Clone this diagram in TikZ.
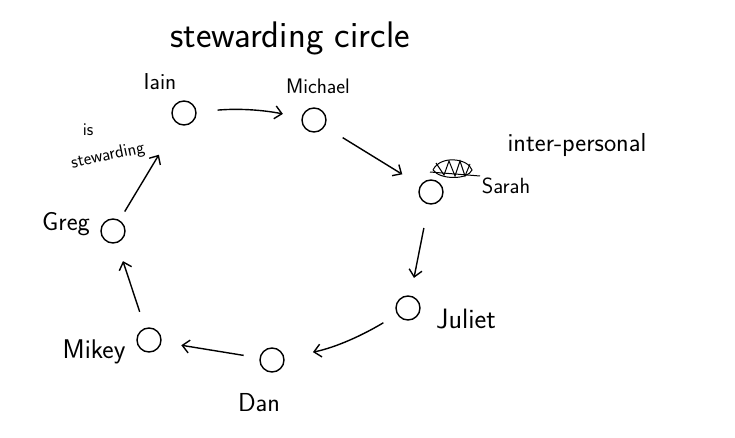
\documentclass[tikz,border=0pt]{standalone}
\usetikzlibrary{arrows.meta}
\begin{document}
\begin{tikzpicture}[x=1pt,y=-1pt,
  person/.style={circle,draw,minimum size=24pt,inner sep=0pt,line width=1.4pt},
  lbl/.style={font=\sffamily\fontsize{21}{23}\selectfont,inner sep=0pt},
  big/.style={font=\sffamily\fontsize{26}{28}\selectfont},
  small/.style={font=\sffamily\fontsize{18}{20}\selectfont},
  conn/.style={-{Straight Barb[length=7pt,width=13pt,line width=1.4pt]},line width=1.4pt}]
\useasboundingbox (0,0) rectangle (735,438);
% people
\node[person] (iain) at (184,113) {};
\node[person] (michael) at (314,120) {};
\node[person] (sarah) at (431,192) {};
\node[person] (juliet) at (408,308) {};
\node[person] (dan) at (272,360) {};
\node[person] (mikey) at (149,340) {};
\node[person] (greg) at (113,231) {};
% labels
\node[lbl,font=\sffamily\fontsize{37}{40}\selectfont] (title) at (290,38) {stewarding circle};
\node[lbl,font=\sffamily\fontsize{23}{25}\selectfont] (liain) at (160,82) {Iain};
\node[lbl] (lmichael) at (318,86) {Michael};
\node[lbl,font=\sffamily\fontsize{22}{24}\selectfont] (lsarah) at (506,186) {Sarah};
\node[lbl,big] (linter) at (577,145) {inter-personal};
\node[lbl,font=\sffamily\fontsize{28}{30}\selectfont] (ljuliet) at (466,319) {Juliet};
\node[lbl,big] (ldan) at (259,403) {Dan};
\node[lbl,font=\sffamily\fontsize{27}{29}\selectfont] (lmikey) at (94,352) {Mikey};
\node[lbl,big] (lgreg) at (66,224) {Greg};
\node[lbl,small] (lis) at (88,130) {is};
\node[lbl,small,rotate=12] (lstew) at (108,156) {stewarding};
% scribbled-out word
\draw[line width=1pt] (433,170) .. controls (440,155) and (468,158) .. (472,170)
  .. controls (468,180) and (440,180) .. (433,170);
\draw[line width=1pt] (436,163) -- (444,175) -- (449,161) -- (455,176) -- (460,161) -- (465,176) -- (470,164);
\draw[line width=1pt] (430,172) -- (480,176);
% connectors
\draw[conn,shorten <=21pt,shorten >=19pt] (iain) to[bend left=8] (michael);
\draw[conn,shorten <=21pt,shorten >=21pt] (michael) -- (sarah);
\draw[conn,shorten <=24pt,shorten >=18pt] (sarah) -- (juliet);
\draw[conn,shorten <=16pt,shorten >=29pt] (juliet) to[bend left=10] (dan);
\draw[conn,shorten <=16pt,shorten >=20pt] (dan) -- (mikey);
\draw[conn,shorten <=17pt,shorten >=19pt] (mikey) -- (greg);
\draw[conn,shorten <=10pt,shorten >=36pt] (greg) -- (iain);
\end{tikzpicture}
\end{document}
